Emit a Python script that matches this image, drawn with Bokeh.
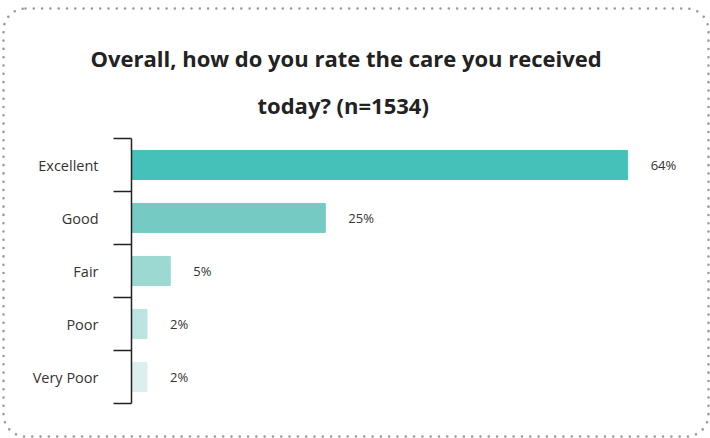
from urllib.parse import quote
from bokeh.plotting import figure
from bokeh.models import Range1d, FixedTicker, ColumnDataSource, Title
from bokeh.core.properties import value
from bokeh.embed import file_html
from bokeh.resources import INLINE

# ---- data ----
categories = ["Excellent", "Good", "Fair", "Poor", "Very Poor"]
percentages = [64, 25, 5, 2, 2]
bar_colors = ["#45C1B9", "#75CBC4", "#9CD9D3", "#BDE4E1", "#DBEFEE"]
title_line1 = "Overall, how do you rate the care you received"
title_line2 = "today? (n=1534)"

n = len(categories)
ypos = [n - i - 0.5 for i in range(n)]
labels = [f"{v}%" for v in percentages]

src = ColumnDataSource(dict(cat=categories, y=ypos, v=percentages, c=bar_colors, lab=labels))

p = figure(width=710, height=438, output_backend="svg", toolbar_location=None,
           x_range=Range1d(0, 73.4), y_range=Range1d(0, n),
           x_axis_location=None, min_border_left=131, min_border_right=10,
           min_border_top=138, min_border_bottom=35)
p.outline_line_color = None
p.grid.visible = False
p.border_fill_color = None
p.background_fill_color = None

# dotted rounded frame around the whole chart (decoration, via CSS)
svg = ("<svg xmlns='http://www.w3.org/2000/svg' width='710' height='438'>"
       "<rect x='3.5' y='8.5' width='705' height='428' rx='22' ry='22' fill='none' "
       "stroke='#9a9a9a' stroke-width='2.6' stroke-dasharray='0 8.3' stroke-linecap='round'/></svg>")
p.styles = {"background-image": f"url(\"data:image/svg+xml;charset=utf-8,{quote(svg)}\")",
            "background-repeat": "no-repeat",
            "background-color": "white"}

p.title.text = title_line1
p.title.align = "left"
p.title.offset = -41
p.title.text_font = "Open Sans"
p.title.text_font_style = "bold"
p.title.text_font_size = "22px"
p.title.text_color = "#222222"
p.title.standoff = 0

t2 = Title(text=title_line2, align="left", offset=126, standoff=34, vertical_align="top",
           text_font="Open Sans", text_font_style="bold", text_font_size="22px",
           text_color="#222222")
p.add_layout(t2, "above")

p.hbar(y="y", right="v", left=0, height=0.55, color="c", source=src)
p.text(x="v", y="y", text="lab", source=src, x_offset=23, text_baseline="middle",
       text_font=value("Open Sans"), text_font_size="13px", text_color="#333333")

ax = p.yaxis[0]
ax.ticker = FixedTicker(ticks=ypos, minor_ticks=list(range(n + 1)))
ax.major_label_overrides = {y: c for y, c in zip(ypos, categories)}
ax.major_tick_out = 0
ax.major_tick_in = 0
ax.minor_tick_out = 18
ax.minor_tick_in = 0
ax.minor_tick_line_color = "#222222"
ax.minor_tick_line_width = 1.5
ax.axis_line_color = "#222222"
ax.axis_line_width = 1.5
ax.major_label_standoff = 15
ax.major_label_text_font = "Open Sans"
ax.major_label_text_font_size = "14.5px"
ax.major_label_text_color = "#333333"

open("out.html", "w").write(file_html(p, INLINE))
